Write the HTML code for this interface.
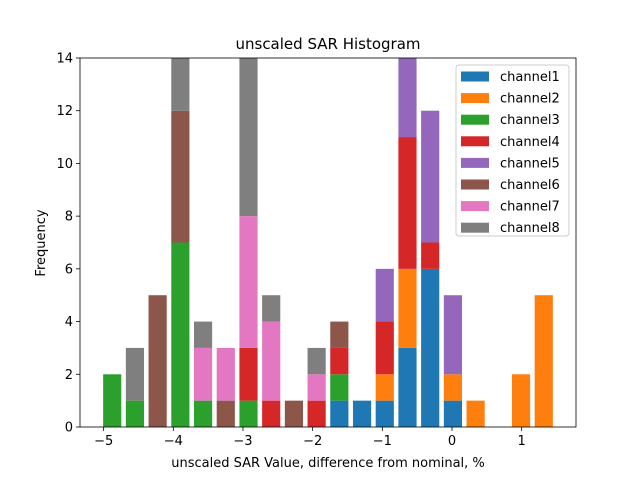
<!DOCTYPE html>
<html><head><meta charset="utf-8"><style>
body{margin:0;background:#fff}
svg{font-family:"DejaVu Sans","Liberation Sans",sans-serif}
</style></head><body>
<svg id="c" width="640" height="480">
<rect width="640" height="480" fill="#fff"/>
<g id="bars"></g>
<g id="axes"></g>
<g id="legend"></g>
</svg>
<script>
const series = ["channel1","channel2","channel3","channel4","channel5","channel6","channel7","channel8"];
const colors = ["#1f77b4","#ff7f0e","#2ca02c","#d62728","#9467bd","#8c564b","#e377c2","#7f7f7f"];
const binStart = -5.04;
const binWidth = 0.326;
const ch1 = [0,0,0,0,0,0,0,0,0,0,1,1,1,3,6,1,0,0,0,0];
const ch2 = [0,0,0,0,0,0,0,0,0,0,0,0,1,3,0,1,1,0,2,5];
const ch3 = [2,1,0,7,1,0,1,0,0,0,1,0,0,0,0,0,0,0,0,0];
const ch4 = [0,0,0,0,0,0,2,1,0,1,1,0,2,5,1,0,0,0,0,0];
const ch5 = [0,0,0,0,0,0,0,0,0,0,0,0,2,4,5,3,0,0,0,0];
const ch6 = [0,0,5,5,0,1,0,0,1,0,1,0,0,0,0,0,0,0,0,0];
const ch7 = [0,0,0,0,2,2,5,3,0,1,0,0,0,0,0,0,0,0,0,0];
const ch8 = [0,2,0,3,1,0,7,1,0,1,0,0,0,0,0,0,0,0,0,0];
const xTicks = [-5,-4,-3,-2,-1,0,1];
const xTickLabels = ["−5","−4","−3","−2","−1","0","1"];
const yTicks = [0,2,4,6,8,10,12,14];
const data = [ch1,ch2,ch3,ch4,ch5,ch6,ch7,ch8];

const L=80,R=576,T=58,B=427,ymax=14;
const sx=v=>452+(v)*69.67;
const sy=v=>B-(v/ymax)*(B-T);
const NS="http://www.w3.org/2000/svg";
function mk(tag,attrs,parent,text){const e=document.createElementNS(NS,tag);for(const k in attrs)e.setAttribute(k,attrs[k]);if(text!==undefined)e.textContent=text;parent.appendChild(e);return e;}
const svg=document.getElementById('c');
const bars=document.getElementById('bars');
const clip=mk('clipPath',{id:'clp'},svg);mk('rect',{x:L,y:T,width:R-L,height:B-T},clip);
bars.setAttribute('clip-path','url(#clp)');
const nb=ch1.length;
for(let i=0;i<nb;i++){
  let base=0;
  const x0=binStart+binWidth*(i+0.1), x1=binStart+binWidth*(i+0.9);
  for(let s=0;s<data.length;s++){
    const v=data[s][i]; if(!v)continue;
    const r=mk('rect',{x:sx(x0),y:sy(base+v),width:sx(x1)-sx(x0),height:sy(base)-sy(base+v),fill:colors[s]},bars);
    
    
    base+=v;
  }
}
const ax=document.getElementById('axes');
mk('rect',{x:L,y:T,width:R-L,height:B-T,fill:'none',stroke:'#000','stroke-width':0.8},ax);
xTicks.forEach((t,i)=>{const x=sx(t);mk('line',{x1:x,x2:x,y1:B,y2:B+4,stroke:'#000','stroke-width':0.8},ax);
 const tx=mk('text',{x:x,y:B+18,'font-size':13,'text-anchor':'middle'},ax,xTickLabels[i]);
 });
yTicks.forEach(t=>{const y=sy(t);mk('line',{x1:L-4,x2:L,y1:y,y2:y,stroke:'#000','stroke-width':0.8},ax);
 const tx=mk('text',{x:L-7,y:y+4.5,'font-size':13,'text-anchor':'end'},ax,String(t));
 });
let t=mk('text',{x:328,y:49,'font-size':15,'text-anchor':'middle'},ax,'unscaled SAR Histogram');

t=mk('text',{x:328,y:467,'font-size':13,'text-anchor':'middle'},ax,'unscaled SAR Value, difference from nominal, %');

t=mk('text',{x:0,y:0,'font-size':13,'text-anchor':'middle',transform:'translate(45,243) rotate(-90)'},ax,'Frequency');

const lg=document.getElementById('legend');
mk('rect',{x:456,y:65,width:113,height:171,rx:3,fill:'#fff','fill-opacity':0.8,stroke:'#ccc'},lg);
series.forEach((s,i)=>{const y=75+i*21.6;
 const g=mk('g',{},lg);
 mk('rect',{x:461,y:y-3.5,width:28,height:10,fill:colors[i]},g);
 mk('text',{x:500,y:y+6,'font-size':13},g,s);});
</script>
</body></html>
